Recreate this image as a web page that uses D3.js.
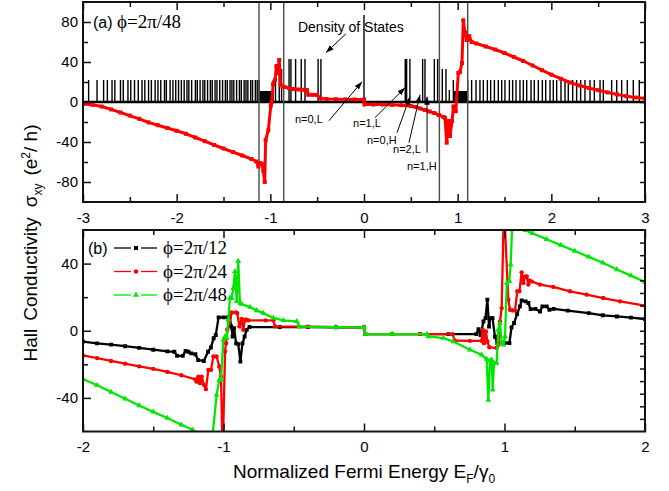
<!DOCTYPE html>
<html>
<head>
<meta charset="utf-8">
<script src="https://cdn.jsdelivr.net/npm/d3@7"></script>
<style>
  body { margin: 0; background: #fff; }
  svg text { font-family: "Liberation Sans", Arial, sans-serif; }
</style>
</head>
<body>
<svg id="chart"></svg>
<script>
// ---------- panel (a): phi = 2pi/48, Hall conductivity (red) ----------
const redA = [
  [-3.0, -2], [-2.9, -2.8], [-2.8, -4.5], [-2.7, -7.4], [-2.6, -10.5], [-2.5, -13.6], [-2.4, -16.8],
  [-2.3, -20.4], [-2.2, -23.2], [-2.1, -26], [-2.0, -28.8], [-1.9, -31.8], [-1.8, -35.5], [-1.7, -39.2],
  [-1.6, -43], [-1.5, -46.5], [-1.4, -50], [-1.3, -53.5], [-1.2, -57], [-1.15, -59.5],
  [-1.128, -64.5], [-1.11, -61], [-1.09, -62], [-1.075, -68.8], [-1.06, -80], [-1.05, -38], [-1.021, -28],
  [-0.995, -3.7], [-0.985, 0], [-0.97, 18], [-0.95, 22], [-0.935, 36], [-0.925, 29], [-0.905, 42],
  [-0.89, 17], [-0.87, 15.5], [-0.85, 15], [-0.8, 14], [-0.75, 13], [-0.7, 12.5], [-0.65, 12.2],
  [-0.61, 12], [-0.595, 7.2], [-0.55, 7.2], [-0.5, 7], [-0.465, 3.6], [-0.4, 3], [-0.3, 2.8],
  [-0.2, 2.6], [-0.1, 2.5], [0, 2.5],
  [0.005, -2.5], [0.1, -2.5], [0.2, -2.6], [0.3, -2.8], [0.4, -3.2], [0.5, -4], [0.55, -5], [0.6, -6.5],
  [0.65, -8], [0.7, -9.5], [0.75, -11], [0.8, -13], [0.85, -15], [0.865, -16], [0.883, -40.7], [0.9, -19],
  [0.918, -34], [0.94, -19], [0.955, -4.4], [0.98, -9.3], [1.007, 29], [1.025, 30], [1.046, 39],
  [1.06, 81.7], [1.078, 69.5], [1.096, 62], [1.11, 62.5], [1.124, 65.8], [1.149, 60],
  [1.2, 58.5], [1.3, 55.5], [1.4, 52.5], [1.5, 49], [1.6, 45], [1.7, 41], [1.8, 36.5], [1.9, 31.8],
  [2.0, 27.3], [2.1, 23.3], [2.2, 19.5], [2.3, 16.5], [2.4, 14], [2.5, 11.8], [2.6, 9.6], [2.7, 7.6],
  [2.8, 5.8], [2.9, 4.5], [3.0, 3.5]
];

// density of states peaks [energy, height]
const dosPeaks = [
  [-2.94, 22], [-2.85, 22], [-2.78, 22], [-2.74, 22], [-2.69, 22], [-2.66, 22], [-2.6, 22], [-2.57, 22],
  [-2.52, 22], [-2.49, 22], [-2.45, 22], [-2.41, 22], [-2.37, 22], [-2.34, 22], [-2.3, 22], [-2.27, 22],
  [-2.23, 22], [-2.2, 22], [-2.17, 22], [-2.13, 22], [-2.11, 22], [-2.07, 22], [-2.04, 22], [-2.01, 22],
  [-1.98, 22], [-1.95, 22], [-1.92, 22], [-1.89, 22], [-1.87, 22], [-1.84, 22], [-1.8, 22], [-1.78, 22],
  [-1.75, 22], [-1.72, 22], [-1.7, 22], [-1.67, 22], [-1.64, 22], [-1.62, 22], [-1.59, 22], [-1.57, 22],
  [-1.54, 22], [-1.51, 22], [-1.48, 22], [-1.46, 22], [-1.43, 22], [-1.41, 22], [-1.39, 22], [-1.36, 22],
  [-1.33, 22], [-1.31, 22], [-1.28, 22], [-1.26, 22], [-1.24, 22], [-1.21, 22], [-1.19, 22], [-1.16, 22],
  [-1.14, 22], [-1.12, 22],
  [-0.97, 22], [-0.945, 22], [-0.905, 33], [-0.88, 33], [-0.8, 43], [-0.78, 43], [-0.73, 43],
  [-0.67, 43], [-0.63, 43], [-0.49, 43], [-0.46, 43], [0, 87],
  [0.44, 43], [0.455, 43], [0.49, 43], [0.626, 43], [0.651, 43], [0.751, 43], [0.786, 43],
  [0.836, 33], [0.875, 33], [0.911, 12], [0.954, 22],
  [1.107, 22], [1.149, 22], [1.196, 22], [1.238, 22], [1.274, 22], [1.317, 22], [1.352, 22], [1.392, 22],
  [1.434, 22], [1.47, 22], [1.505, 22], [1.552, 22], [1.587, 22], [1.623, 22], [1.665, 22], [1.701, 22],
  [1.737, 22], [1.783, 22], [1.818, 22], [1.861, 22], [1.904, 22], [1.94, 22], [1.986, 22], [2.021, 22],
  [2.057, 22], [2.103, 22], [2.146, 22], [2.181, 22], [2.228, 22], [2.27, 22], [2.313, 22], [2.359, 22],
  [2.413, 22], [2.459, 22], [2.52, 22], [2.555, 22], [2.644, 22], [2.698, 22], [2.751, 22], [2.811, 22],
  [2.875, 22], [2.939, 22]
];
// dense blocks of states [from, to, height]
const dosBands = [[-1.11, -0.975, 11], [0.955, 1.1, 11]];
// band edge markers
const edgeLines = [-1.121, -0.857, 0.805, 1.107];

const arrowsA = [
  { from: [-0.192, 68.3], to: [-0.406, 49.3] },
  { from: [-0.374, -18.7], to: [-0.021, 20.3] },
  { from: [0.117, -15.7], to: [0.438, 14.3] },
  { from: [0.352, -30.7], to: [0.491, 5.3] },
  { from: [0.48, -40.7], to: [0.598, 7.3] },
  { from: [0.673, -50.7], to: [0.673, 5.3] }
];
const notesA = [
  ['n=0,L', -0.737, -20.7], ['n=1,L', -0.117, -24.7], ['n=0,H', 0.032, -41.7],
  ['n=2,L', 0.31, -50.7], ['n=1,H', 0.459, -67.7]
];

// ---------- panel (b): three fluxes ----------
const black12 = [
  [-2, -6.5], [-1.9, -7.5], [-1.8, -8.3], [-1.7, -9.2], [-1.6, -10.2], [-1.5, -11.3], [-1.4, -12.3],
  [-1.35, -12.5], [-1.33, -15], [-1.29, -15], [-1.27, -12], [-1.25, -12.5], [-1.23, -13.5], [-1.2, -14],
  [-1.18, -17.5], [-1.14, -18], [-1.11, -12.5], [-1.09, -10], [-1.07, -4.5], [-1.055, -2.5], [-1.035, 8],
  [-1.0, 8], [-0.97, 8], [-0.955, 8.5], [-0.945, 2.5], [-0.935, -3.5], [-0.925, 1.5], [-0.91, -7.5],
  [-0.895, -8], [-0.88, -18.3], [-0.865, -7.5], [-0.85, -3.5], [-0.835, 0.5], [-0.815, 2.2], [-0.6, 2.2],
  [-0.4, 2.2], [-0.2, 2], [0, 2], [0.01, -2], [0.2, -2], [0.4, -2], [0.6, -2], [0.8, -2], [0.815, 1],
  [0.83, -2.5], [0.85, 5.5], [0.865, 7.5], [0.878, 18.5], [0.89, 2.5], [0.9, 7.5], [0.915, 7.5],
  [0.932, -3.6], [0.949, -7.3], [1.0, -7.3], [1.035, -7.3], [1.05, 2], [1.068, 4.6], [1.09, 10],
  [1.11, 14.5], [1.122, 18], [1.15, 17.5], [1.17, 16.5], [1.186, 12.9], [1.22, 13], [1.253, 11.5],
  [1.27, 14.5], [1.3, 14.5], [1.32, 12.5], [1.35, 13], [1.45, 12], [1.6, 10.5], [1.7, 9.2], [1.8, 8.5],
  [1.9, 7.8], [2, 7]
];
const red24 = [
  [-2, -14.7], [-1.9, -16.3], [-1.8, -18], [-1.7, -19.6], [-1.6, -21.2], [-1.5, -22.7], [-1.4, -24.5],
  [-1.3, -26.5], [-1.2, -29], [-1.191, -30.3], [-1.179, -27.3], [-1.167, -31.2], [-1.155, -27.3],
  [-1.139, -32.2], [-1.125, -34.8], [-1.108, -23.3], [-1.089, -23.3], [-1.072, -15.3], [-1.049, -15.3],
  [-1.03, -21.3], [-1.018, -27.3], [-1.006, -75], [-0.989, -12.3], [-0.982, -7.4], [-0.973, 0.6],
  [-0.959, 4.6], [-0.942, 10.9], [-0.911, 10.9], [-0.902, 10.5], [-0.887, 2.6], [-0.871, 7],
  [-0.859, 0.6], [-0.847, 6.6], [-0.835, 6.6], [-0.823, 6.2], [-0.7, 6.2], [-0.645, 6.2], [-0.633, 2.6],
  [-0.4, 2.4], [-0.2, 2.2], [0, 2], [0.01, -2], [0.2, -2], [0.4, -2], [0.63, -2], [0.645, -5.8],
  [0.754, -6], [0.837, -6], [0.845, 0.6], [0.854, -7.4], [0.868, -0.4], [0.878, -6.4], [0.892, -9.8],
  [0.944, -10.3], [0.956, -8.4], [0.968, 5.6], [0.98, 13.5], [0.996, 75], [1.027, 18.5], [1.039, 12.5],
  [1.058, 12.1], [1.075, 12.1], [1.091, 23.5], [1.106, 23.5], [1.122, 34.8], [1.134, 28.5],
  [1.146, 32.4], [1.158, 32.4], [1.17, 27.5], [1.177, 30], [1.193, 29.4], [1.253, 27.5], [1.347, 26.1],
  [1.466, 23.5], [1.585, 21.5], [1.703, 19.5], [1.822, 17.5], [2, 14.9]
];
const green48 = [
  [-2, -28.7], [-1.9, -32.5], [-1.8, -36.5], [-1.7, -40.5], [-1.6, -44.5], [-1.5, -48.3], [-1.4, -52],
  [-1.3, -56], [-1.22, -59], [-1.16, -62], [-1.12, -66], [-1.08, -64], [-1.049, -38.2], [-1.03, -29.3],
  [-1.018, -29.3], [-1.001, -5.4], [-0.989, -3.4], [-0.977, -4.4], [-0.966, 6.6], [-0.954, 19.5],
  [-0.942, 19.5], [-0.93, 25.5], [-0.918, 35.4], [-0.906, 17.5], [-0.895, 41.4], [-0.883, 16.5],
  [-0.871, 15.9], [-0.811, 14.1], [-0.764, 12.1], [-0.717, 10.5], [-0.645, 7.6], [-0.574, 6.2],
  [-0.479, 5.6], [-0.46, 2.4], [-0.2, 2.1], [0, 2], [0.01, -2], [0.2, -2], [0.45, -2], [0.458, -3.4],
  [0.565, -4.4], [0.636, -6.4], [0.754, -11.3], [0.837, -14.3], [0.873, -16.9], [0.885, -41.2],
  [0.897, -17.7], [0.909, -17.3], [0.916, -35.2], [0.925, -19.3], [0.944, -19.3], [0.956, 0.6],
  [0.968, 4.6], [0.98, -7.4], [0.992, -8.4], [1.004, -3.4], [1.016, 28.5], [1.034, 29.4], [1.044, 39.4],
  [1.058, 70], [1.09, 72], [1.11, 60.5], [1.15, 59.8], [1.2, 58], [1.3, 54.5], [1.4, 51], [1.5, 47.5],
  [1.6, 44], [1.7, 40.5], [1.8, 36.5], [1.9, 32.8], [2, 29]
];
const seriesNames = ['\u03d5=2\u03c0/12', '\u03d5=2\u03c0/24', '\u03d5=2\u03c0/48'];
const seriesColors = ['#000000', '#ff0000', '#00e600'];
const seriesShapes = [d3.symbolSquare, d3.symbolCircle, d3.symbolTriangle];

// tick values
const xMajorA = [-3, -2, -1, 0, 1, 2, 3];
const xMinorA = [-2.5, -1.5, -0.5, 0.5, 1.5, 2.5];
const yMajorA = [-80, -40, 0, 40, 80];
const yMinorA = [-60, -20, 20, 60];
const yRightA = [-80, -60, -40, -20, 0, 20, 40, 60, 80];
const xMajorB = [-2, -1, 0, 1, 2];
const xMinorB = [-1.5, -0.5, 0.5, 1.5];
const yMajorB = [-40, 0, 40];
const yMinorB = [-20, 20];
const yRightB = [-52.5, -45, -37.5, -30, -22.5, -15, -7.5, 0, 7.5, 15, 22.5, 30, 37.5, 45, 52.5];

// ---------- chart ----------
const serif = '"Liberation Serif", "Times New Roman", serif';
const svg = d3.select('#chart').attr('width', 669).attr('height', 491);
const plotLeft = 83, plotRight = 645;

const xA = d3.scaleLinear().domain([-3, 3]).range([plotLeft, plotRight]);
const yA = d3.scaleLinear().domain([-100, 100]).range([202, 2]);
const xB = d3.scaleLinear().domain([-2, 2]).range([plotLeft, plotRight]);
const yB = d3.scaleLinear().domain([-60, 60]).range([431.5, 230]);

const defs = svg.append('defs');
defs.append('marker')
  .attr('id', 'arr')
  .attr('viewBox', '0 0 10 10')
  .attr('refX', 10).attr('refY', 5)
  .attr('markerWidth', 8).attr('markerHeight', 8)
  .attr('markerUnits', 'userSpaceOnUse')
  .attr('orient', 'auto')
  .append('path').attr('d', 'M0,1.5L10,5L0,8.5Z').attr('fill', '#000');

function addClip(id, x, y) {
  defs.append('clipPath').attr('id', id)
    .append('rect')
    .attr('x', x.range()[0]).attr('y', y.range()[1])
    .attr('width', x.range()[1] - x.range()[0])
    .attr('height', y.range()[0] - y.range()[1]);
}
addClip('clipA', xA, yA);
addClip('clipB', xB, yB);

function styleAxis(g) {
  g.select('.domain').remove();
  g.selectAll('line').attr('stroke', '#111').attr('stroke-width', 1.5);
  g.attr('font-size', 15).attr('font-family', '"Liberation Sans", Arial, sans-serif');
  g.selectAll('text').attr('fill', '#000');
}

function drawAxes(x, y, t) {
  const bottom = y.range()[0], top = y.range()[1];
  const g = svg.append('g');
  g.append('g').attr('transform', `translate(0,${bottom})`)
    .call(d3.axisBottom(x).tickValues(t.xMajor).tickSize(-8).tickPadding(10).tickFormat(d => String(d)))
    .call(styleAxis);
  g.append('g').attr('transform', `translate(0,${bottom})`)
    .call(d3.axisBottom(x).tickValues(t.xMinor).tickSize(-5).tickFormat(''))
    .call(styleAxis);
  g.append('g').attr('transform', `translate(0,${top})`)
    .call(d3.axisTop(x).tickValues(t.xMajor).tickSize(-8).tickFormat(''))
    .call(styleAxis);
  g.append('g').attr('transform', `translate(0,${top})`)
    .call(d3.axisTop(x).tickValues(t.xMinor).tickSize(-5).tickFormat(''))
    .call(styleAxis);
  g.append('g').attr('transform', `translate(${plotLeft},0)`)
    .call(d3.axisLeft(y).tickValues(t.yMajor).tickSize(-8).tickPadding(5).tickFormat(d => String(d)))
    .call(styleAxis);
  g.append('g').attr('transform', `translate(${plotLeft},0)`)
    .call(d3.axisLeft(y).tickValues(t.yMinor).tickSize(-5).tickFormat(''))
    .call(styleAxis);
  g.append('g').attr('transform', `translate(${plotRight},0)`)
    .call(d3.axisRight(y).tickValues(t.yRight).tickSize(-5).tickFormat(''))
    .call(styleAxis);
  g.append('rect')
    .attr('x', plotLeft).attr('y', top)
    .attr('width', plotRight - plotLeft).attr('height', bottom - top)
    .attr('fill', 'none').attr('stroke', '#111').attr('stroke-width', 2);
}

// ----- panel (a) -----
const pa = svg.append('g').attr('clip-path', 'url(#clipA)');

// DOS as a single trace that goes up and down at each peak
const dosTrace = [[-3, 0]];
dosPeaks.forEach(([e, h]) => { dosTrace.push([e, 0], [e, h], [e, 0]); });
dosTrace.push([3, 0]);
pa.append('path')
  .attr('d', d3.line().x(d => xA(d[0])).y(d => yA(d[1]))(dosTrace))
  .attr('fill', 'none').attr('stroke', '#000').attr('stroke-width', 1.4);

pa.selectAll('rect.band').data(dosBands).join('rect')
  .attr('class', 'band')
  .attr('x', d => xA(d[0])).attr('width', d => xA(d[1]) - xA(d[0]))
  .attr('y', d => yA(d[2])).attr('height', d => yA(0) - yA(d[2]))
  .attr('fill', '#000');

pa.append('line')
  .attr('x1', xA(-3)).attr('x2', xA(3)).attr('y1', yA(0)).attr('y2', yA(0))
  .attr('stroke', '#000').attr('stroke-width', 2.6);

pa.selectAll('line.edge').data(edgeLines).join('line')
  .attr('class', 'edge')
  .attr('x1', d => xA(d)).attr('x2', d => xA(d))
  .attr('y1', yA(100)).attr('y2', yA(-100))
  .attr('stroke', '#4a4a4a').attr('stroke-width', 1.4);

const lineA = d3.line().x(d => xA(d[0])).y(d => yA(d[1]));
pa.append('path').attr('d', lineA(redA))
  .attr('fill', 'none').attr('stroke', '#ff0000').attr('stroke-width', 3).attr('stroke-linejoin', 'round');
pa.selectAll('path.mk').data(redA).join('path')
  .attr('class', 'mk')
  .attr('d', d3.symbol().type(d3.symbolSquare).size(16))
  .attr('transform', d => `translate(${xA(d[0])},${yA(d[1])})`)
  .attr('fill', '#ff0000');

drawAxes(xA, yA, { xMajor: xMajorA, xMinor: xMinorA, yMajor: yMajorA, yMinor: yMinorA, yRight: yRightA });

// annotations
svg.selectAll('line.arrow').data(arrowsA).join('line')
  .attr('class', 'arrow')
  .attr('x1', d => xA(d.from[0])).attr('y1', d => yA(d.from[1]))
  .attr('x2', d => xA(d.to[0])).attr('y2', d => yA(d.to[1]))
  .attr('stroke', '#000').attr('stroke-width', 1)
  .attr('marker-end', 'url(#arr)');

svg.append('text')
  .attr('x', xA(-0.705)).attr('y', yA(70.3))
  .attr('font-size', 14)
  .text('Density of States');

svg.selectAll('text.note').data(notesA).join('text')
  .attr('class', 'note')
  .attr('x', d => xA(d[1])).attr('y', d => yA(d[2]))
  .attr('font-size', 11)
  .text(d => d[0]);

const labA = svg.append('text').attr('x', 93).attr('y', 28);
labA.append('tspan').attr('font-size', 16).text('(a) ');
labA.append('tspan').attr('font-size', 19)
  .style('font-family', serif)
  .text('\u03d5=2\u03c0/48');

// ----- panel (b) -----
const pb = svg.append('g').attr('clip-path', 'url(#clipB)');
const lineB = d3.line().x(d => xB(d[0])).y(d => yB(d[1]));
const seriesB = [black12, red24, green48];

seriesB.forEach((data, i) => {
  pb.append('path').attr('d', lineB(data))
    .attr('fill', 'none').attr('stroke', seriesColors[i])
    .attr('stroke-width', 2.3).attr('stroke-linejoin', 'round');
  pb.selectAll(`path.mk${i}`).data(data).join('path')
    .attr('class', `mk${i}`)
    .attr('d', d3.symbol().type(seriesShapes[i]).size(15))
    .attr('transform', d => `translate(${xB(d[0])},${yB(d[1])})`)
    .attr('fill', seriesColors[i]);
});

drawAxes(xB, yB, { xMajor: xMajorB, xMinor: xMinorB, yMajor: yMajorB, yMinor: yMinorB, yRight: yRightB });

// legend
svg.append('text').attr('x', 88).attr('y', 254).attr('font-size', 16).text('(b)');
const legend = svg.append('g');
seriesNames.forEach((name, i) => {
  const ly = 248 + i * 23.5;
  const row = legend.append('g').attr('transform', `translate(0,${ly})`);
  row.append('line').attr('x1', 114).attr('x2', 131).attr('stroke', seriesColors[i]).attr('stroke-width', 1.3);
  row.append('line').attr('x1', 141).attr('x2', 157).attr('stroke', seriesColors[i]).attr('stroke-width', 1.3);
  row.append('path').attr('d', d3.symbol().type(seriesShapes[i]).size(16))
    .attr('transform', 'translate(136,0)').attr('fill', seriesColors[i]);
  row.append('text').attr('x', 163).attr('y', 6)
    .attr('font-size', 19)
    .style('font-family', serif)
    .text(name);
});

// ----- axis titles -----
const yt = svg.append('text')
  .attr('transform', 'translate(37,243) rotate(-90)')
  .attr('text-anchor', 'middle')
  .attr('font-size', 19);
yt.append('tspan').text('Hall');
yt.append('tspan').attr('dx', 8).text('Conductivity');
yt.append('tspan').attr('dx', 10).text('\u03c3');
yt.append('tspan').attr('dy', 5).attr('font-size', 12).text('xy');
yt.append('tspan').attr('dy', -5).attr('dx', 8).text('(e');
yt.append('tspan').attr('dy', -7).attr('font-size', 12).text('2');
yt.append('tspan').attr('dy', 7).text('/ h)');

const xt = svg.append('text')
  .attr('x', 364).attr('y', 478)
  .attr('text-anchor', 'middle')
  .attr('font-size', 19);
xt.append('tspan').text('Normalized Fermi Energy E');
xt.append('tspan').attr('dy', 5).attr('font-size', 12).text('F');
xt.append('tspan').attr('dy', -5).text('/\u03b3');
xt.append('tspan').attr('dy', 5).attr('font-size', 12).text('0');
</script>
</body>
</html>
